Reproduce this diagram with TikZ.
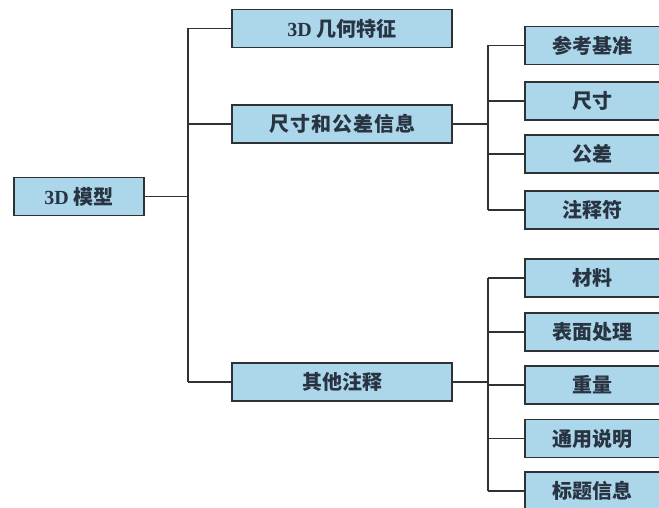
\documentclass[tikz,border=0pt]{standalone}
\usepackage{fontspec}
\setmainfont{Liberation Serif}
\newfontfamily\cjk{Noto Sans CJK SC}
\definecolor{boxfill}{RGB}{172,214,234}
\definecolor{boxline}{RGB}{45,50,55}
\definecolor{txt}{RGB}{40,52,66}
\begin{document}
\begin{tikzpicture}[x=1pt,y=-1pt,
  box/.style={draw=boxline, line width=1.4pt, fill=boxfill, inner sep=0pt,
    minimum height=38pt, text=txt, font=\fontsize{20}{22}\selectfont\bfseries\cjk},
  rootbox/.style={box, minimum width=130pt},
  lonebox/.style={box, minimum width=220pt},
  ltwobox/.style={box, minimum width=135pt},
  link/.style={draw=boxline, line width=1.2pt}]
\useasboundingbox (0,0) rectangle (659,508);
\fill[white] (0,0) rectangle (659,508);
% nodes
\node[rootbox] (root) at (79,196.5) {{\rmfamily\bfseries 3D} 模型};
\node[lonebox] (geo) at (342,28.5) {{\rmfamily\bfseries 3D} 几何特征};
\node[lonebox] (dim) at (342,124) {尺\hspace{1pt}寸\hspace{1pt}和\hspace{1pt}公\hspace{1pt}差\hspace{1pt}信\hspace{1pt}息};
\node[lonebox] (oth) at (342,382) {其他注释};
\node[ltwobox] (d1) at (592.5,45.5) {参考基准};
\node[ltwobox] (d2) at (592.5,101) {尺寸};
\node[ltwobox] (d3) at (592.5,154) {公差};
\node[ltwobox] (d4) at (592.5,210) {注释符};
\node[ltwobox] (o1) at (592.5,278) {材料};
\node[ltwobox] (o2) at (592.5,332) {表面处理};
\node[ltwobox] (o3) at (592.5,385) {重量};
\node[ltwobox] (o4) at (592.5,438.5) {通用说明};
\node[ltwobox] (o5) at (592.5,491) {标题信息};
% trunk coordinates
\coordinate (t0) at (188,0);
\coordinate (t1) at (488,0);
% root trunk
\draw[link] (root.east) -- (root.east -| t0);
\draw[link] (geo.west -| t0) -- (oth.west -| t0);
\foreach \n in {geo,dim,oth} \draw[link] (\n.west) -- (\n.west -| t0);
% dimension group
\draw[link] (dim.east) -- (dim.east -| t1);
\draw[link] (d1.west -| t1) -- (d4.west -| t1);
\foreach \n in {d1,d2,d3,d4} \draw[link] (\n.west) -- (\n.west -| t1);
% other group
\draw[link] (oth.east) -- (oth.east -| t1);
\draw[link] (o1.west -| t1) -- (o5.west -| t1);
\foreach \n in {o1,o2,o3,o4,o5} \draw[link] (\n.west) -- (\n.west -| t1);
\end{tikzpicture}
\end{document}
